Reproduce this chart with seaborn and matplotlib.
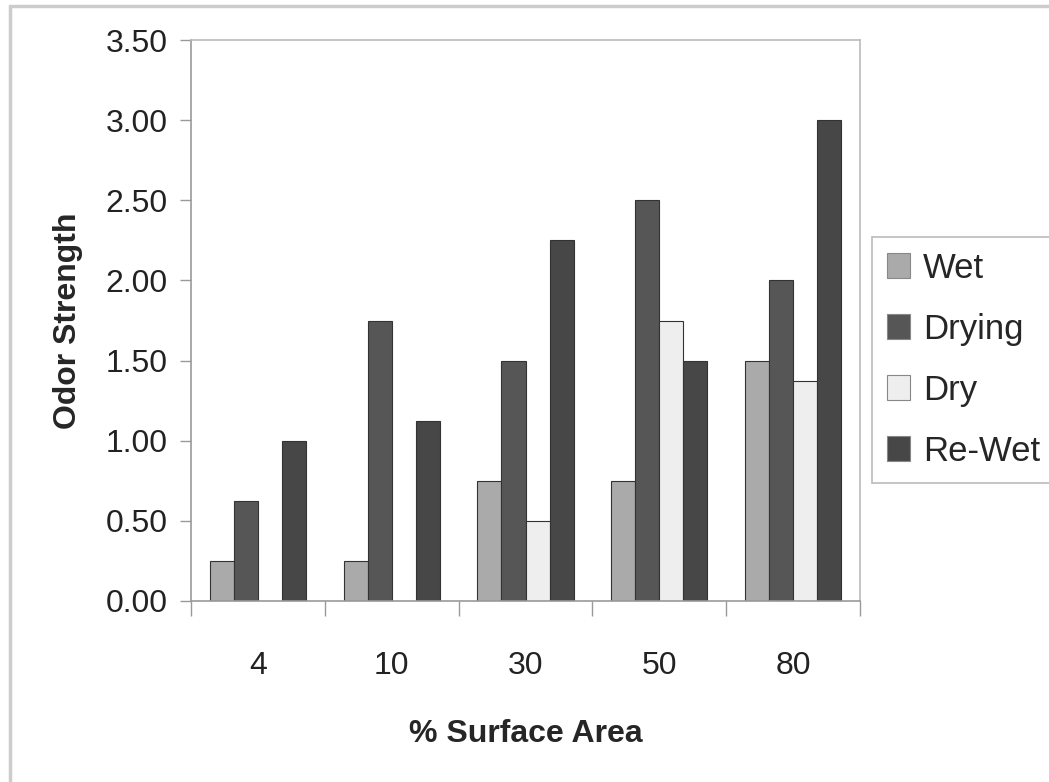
import numpy as np
import pandas as pd
import matplotlib
matplotlib.use('Agg')
import matplotlib.pyplot as plt
import seaborn as sns
from matplotlib.lines import Line2D

categories = ['4', '10', '30', '50', '80']
wet = [0.25, 0.25, 0.75, 0.75, 1.50]
drying = [0.625, 1.75, 1.50, 2.50, 2.00]
dry = [0.0, 0.0, 0.50, 1.75, 1.375]
rewet = [1.00, 1.125, 2.25, 1.50, 3.00]
series = ['Wet', 'Drying', 'Dry', 'Re-Wet']
colors = ['#aaaaaa', '#565656', '#eeeeee', '#474747']

df = pd.DataFrame({
    'area': categories * 4,
    'value': wet + drying + dry + rewet,
    'series': [s for s in series for _ in categories],
})

sns.set_style('white')
plt.rcParams['font.family'] = ['Liberation Sans', 'DejaVu Sans']

fig = plt.figure(figsize = (10.49, 7.82), dpi = 100)
ax = fig.add_axes([191/1049, 1 - 601/782, (860-191)/1049, (601-40)/782])

sns.barplot(data = df, x = 'area', y = 'value', hue = 'series', order = categories,
            hue_order = series, palette = colors, width = 0.72, gap = 0,
            edgecolor = '#333333', linewidth = 0.8, ax = ax, legend = False)

ax.set_xlim(-0.5, 4.5)
ax.set_ylim(0, 3.5)
yt = np.arange(0, 3.51, 0.5)
ax.set_yticks(yt)
ax.set_yticklabels([f'{v:.2f}' for v in yt], fontsize = 23, color = '#222222')
ax.set_xticks(np.arange(-0.5, 4.6, 1))
ax.set_xticklabels([])
ax.set_xticks(range(5), minor = True)
ax.set_xticklabels(categories, minor = True, fontsize = 23, color = '#222222')
ax.tick_params(axis = 'x', which = 'major', bottom = True, direction = 'out', length = 11, width = 1, color = '#999999')
ax.tick_params(axis = 'x', which = 'minor', bottom = True, length = 0, pad = 36)
ax.tick_params(axis = 'y', left = True, direction = 'out', length = 8, width = 1, color = '#999999', pad = 9)

for sp in ax.spines.values():
    sp.set_color('#bbbbbb')
    sp.set_linewidth(1.2)
ax.spines['left'].set_color('#999999')
ax.spines['bottom'].set_color('#999999')

ax.set_xlabel('% Surface Area', fontsize = 23, fontweight = 'bold', labelpad = 27)
ax.set_ylabel('Odor Strength', fontsize = 23, fontweight = 'bold', labelpad = 16)

handles = [plt.Rectangle((0, 0), 1, 1, facecolor = c, edgecolor = '#888888', linewidth = 0.8) for c in colors]
leg = fig.legend(handles, series, loc = 'upper left', bbox_to_anchor = (872/1049, 1 - 237/782),
                 fontsize = 25, frameon = True, fancybox = False, handlelength = 0.66,
                 handleheight = 0.72, handletextpad = 0.38, labelspacing = 0.81,
                 borderpad = 0.42, borderaxespad = 0)
leg.get_frame().set_edgecolor('#aaaaaa')
leg.get_frame().set_linewidth(1.2)

# outer chart border (left and top edges visible)
fig.add_artist(Line2D([10/1049, 10/1049], [0, 1 - 6/782], transform = fig.transFigure, color = '#cccccc', lw = 2.5))
fig.add_artist(Line2D([10/1049, 1], [1 - 6/782, 1 - 6/782], transform = fig.transFigure, color = '#cccccc', lw = 2.5))

fig.savefig('out.png', dpi = 100)
